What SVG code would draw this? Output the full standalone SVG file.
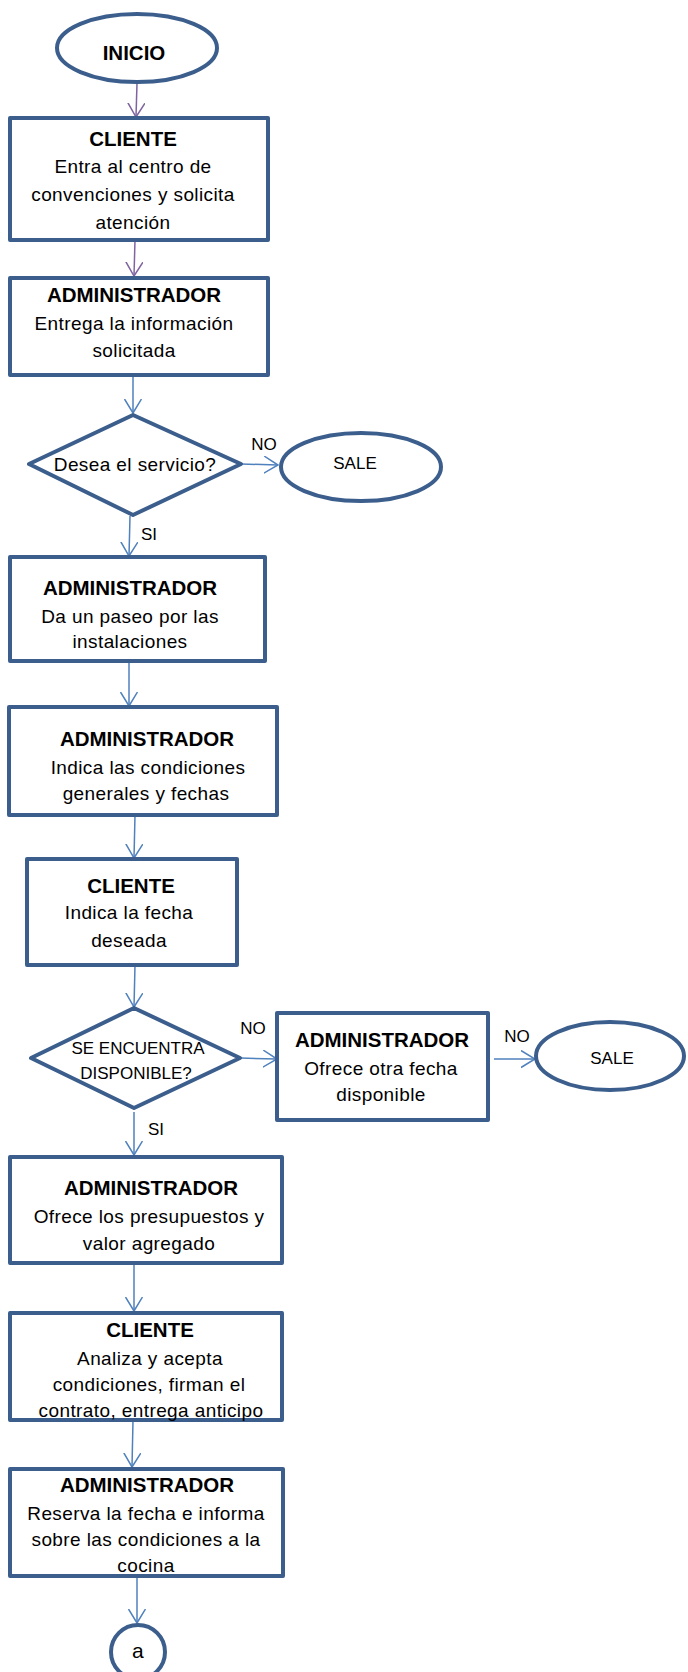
<svg xmlns="http://www.w3.org/2000/svg" width="688" height="1672" viewBox="0 0 688 1672">
<style>
.shape{fill:#ffffff;stroke:#3B5E8C;stroke-width:4;stroke-linejoin:round}
.t{font-family:"Liberation Sans",Arial,sans-serif;font-size:19px;fill:#000;text-anchor:middle;letter-spacing:0.4px}
.b{font-family:"Liberation Sans",Arial,sans-serif;font-size:20.5px;font-weight:bold;fill:#000;text-anchor:middle}
.s{font-family:"Liberation Sans",Arial,sans-serif;font-size:17px;fill:#000;text-anchor:middle}
.c{fill:none;stroke:#4F81BD;stroke-width:1.5}
.p{fill:none;stroke:#8064A2;stroke-width:1.5}
</style>
<defs>
<marker id="ah" markerUnits="userSpaceOnUse" markerWidth="18" markerHeight="20" refX="14" refY="9" orient="auto" viewBox="0 0 18 20">
<path d="M0,0.5 L14,9 L0,17.5" fill="none" stroke="#4F81BD" stroke-width="1.5"/>
</marker>
<marker id="ahp" markerUnits="userSpaceOnUse" markerWidth="18" markerHeight="20" refX="14" refY="9" orient="auto" viewBox="0 0 18 20">
<path d="M0,0.5 L14,9 L0,17.5" fill="none" stroke="#8064A2" stroke-width="1.5"/>
</marker>
</defs>
<g id="connectors">
<line class="p" x1="137" y1="83" x2="136" y2="117" marker-end="url(#ahp)"/>
<line class="p" x1="135" y1="240" x2="134" y2="276" marker-end="url(#ahp)"/>
<line class="c" x1="133" y1="375" x2="133" y2="413" marker-end="url(#ah)"/>
<line class="c" x1="241" y1="464" x2="278" y2="465" marker-end="url(#ah)"/>
<line class="c" x1="130" y1="516" x2="129" y2="556" marker-end="url(#ah)"/>
<line class="c" x1="129" y1="661" x2="129" y2="706" marker-end="url(#ah)"/>
<line class="c" x1="135" y1="815" x2="134" y2="858" marker-end="url(#ah)"/>
<line class="c" x1="135" y1="965" x2="134" y2="1007" marker-end="url(#ah)"/>
<line class="c" x1="240" y1="1058" x2="277" y2="1059" marker-end="url(#ah)"/>
<line class="c" x1="494" y1="1059" x2="535" y2="1059" marker-end="url(#ah)"/>
<line class="c" x1="134" y1="1112" x2="134" y2="1155" marker-end="url(#ah)"/>
<line class="c" x1="134" y1="1263" x2="134" y2="1311" marker-end="url(#ah)"/>
<line class="c" x1="133" y1="1420" x2="132" y2="1467" marker-end="url(#ah)"/>
<line class="c" x1="137" y1="1568" x2="137" y2="1623" marker-end="url(#ah)"/>
<text class="s" x="264" y="450">NO</text>
<text class="s" x="149" y="540">SI</text>
<text class="s" x="253" y="1034">NO</text>
<text class="s" x="517" y="1042">NO</text>
<text class="s" x="156" y="1135">SI</text>
</g>
<g id="inicio">
<ellipse class="shape" cx="137" cy="48" rx="80" ry="34"/>
<text class="b" x="134" y="60">INICIO</text>
</g>
<g id="cliente1">
<rect class="shape" x="10" y="118" width="258" height="122"/>
<text class="b" x="133" y="146">CLIENTE</text>
<text class="t" x="133" y="173">Entra al centro de</text>
<text class="t" x="133" y="201">convenciones y solicita</text>
<text class="t" x="133" y="229">atención</text>
</g>
<g id="admin1">
<rect class="shape" x="10" y="278" width="258" height="97"/>
<text class="b" x="134" y="302">ADMINISTRADOR</text>
<text class="t" x="134" y="330">Entrega la información</text>
<text class="t" x="134" y="357">solicitada</text>
</g>
<g id="decision1">
<polygon class="shape" points="133,415 241,464 133,515 29,464"/>
<text class="t" x="135" y="471">Desea el servicio?</text>
</g>
<g id="sale1">
<ellipse class="shape" cx="361" cy="467" rx="80" ry="34"/>
<text class="s" x="355" y="469">SALE</text>
</g>
<g id="admin2">
<rect class="shape" x="10" y="557" width="255" height="104"/>
<text class="b" x="130" y="595">ADMINISTRADOR</text>
<text class="t" x="130" y="623">Da un paseo por las</text>
<text class="t" x="130" y="648">instalaciones</text>
</g>
<g id="admin3">
<rect class="shape" x="9" y="707" width="268" height="108"/>
<text class="b" x="147" y="746">ADMINISTRADOR</text>
<text class="t" x="148" y="774">Indica las condiciones</text>
<text class="t" x="146" y="800">generales y fechas</text>
</g>
<g id="cliente2">
<rect class="shape" x="27" y="859" width="210" height="106"/>
<text class="b" x="131" y="893">CLIENTE</text>
<text class="t" x="129" y="919">Indica la fecha</text>
<text class="t" x="129" y="947">deseada</text>
</g>
<g id="decision2">
<polygon class="shape" points="134,1008 240,1058 134,1108 31,1058"/>
<text class="s" x="138" y="1054">SE ENCUENTRA</text>
<text class="s" x="136" y="1079">DISPONIBLE?</text>
</g>
<g id="admin4">
<rect class="shape" x="277" y="1013" width="211" height="107"/>
<text class="b" x="382" y="1047">ADMINISTRADOR</text>
<text class="t" x="381" y="1075">Ofrece otra fecha</text>
<text class="t" x="381" y="1101">disponible</text>
</g>
<g id="sale2">
<ellipse class="shape" cx="610" cy="1056" rx="74" ry="34"/>
<text class="s" x="612" y="1064">SALE</text>
</g>
<g id="admin5">
<rect class="shape" x="10" y="1157" width="272" height="106"/>
<text class="b" x="151" y="1195">ADMINISTRADOR</text>
<text class="t" x="149" y="1223">Ofrece los presupuestos y</text>
<text class="t" x="149" y="1250">valor agregado</text>
</g>
<g id="cliente3">
<rect class="shape" x="10" y="1313" width="272" height="107"/>
<text class="b" x="150" y="1337">CLIENTE</text>
<text class="t" x="150" y="1365">Analiza y acepta</text>
<text class="t" x="149" y="1391">condiciones, firman el</text>
<text class="t" x="151" y="1417">contrato, entrega anticipo</text>
</g>
<g id="admin6">
<rect class="shape" x="10" y="1469" width="273" height="107"/>
<text class="b" x="147" y="1492">ADMINISTRADOR</text>
<text class="t" x="146" y="1520">Reserva la fecha e informa</text>
<text class="t" x="146" y="1546">sobre las condiciones a la</text>
<text class="t" x="146" y="1572">cocina</text>
</g>
<g id="conector-a">
<circle class="shape" cx="138" cy="1652" r="27"/>
<text class="t" x="138" y="1658" style="font-size:21px">a</text>
</g>
</svg>
